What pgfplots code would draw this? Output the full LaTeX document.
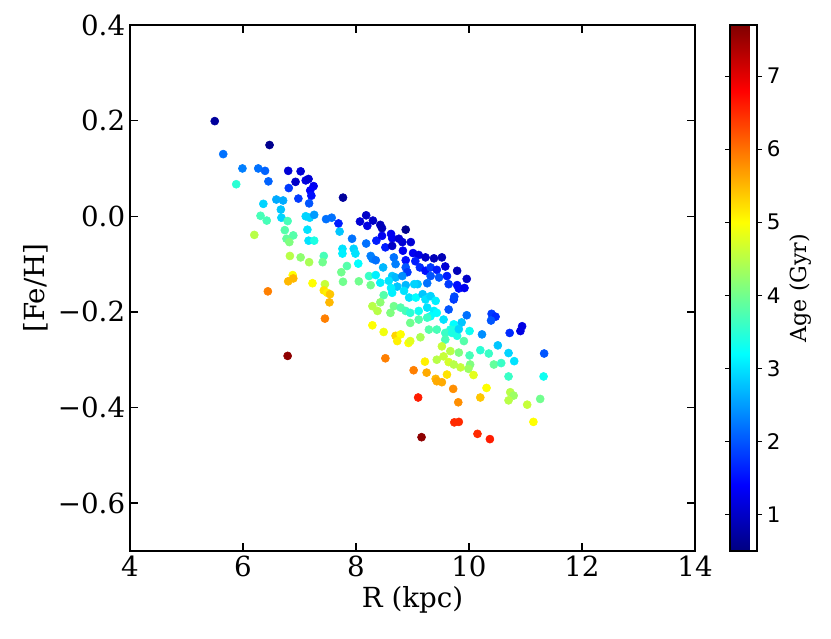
\documentclass[border=0pt]{standalone}
\usepackage{pgfplots}
\pgfplotsset{compat=1.18}
\usepackage{fontspec}
\setmainfont{DejaVu Serif}
\newfontfamily\cbfont{DejaVu Sans}
\pgfplotstableread{
R FeH a
5.50 0.199 0.7
6.47 0.149 0.6
5.65 0.130 2.2
5.99 0.100 2.3
6.27 0.100 2.2
6.39 0.095 2.1
6.45 0.073 2.1
5.88 0.067 3.5
6.80 0.095 1.1
7.02 0.094 1.1
6.93 0.072 1.0
7.11 0.075 1.2
7.16 0.078 1.1
7.25 0.063 1.3
7.19 0.054 1.4
7.21 0.043 1.5
6.81 0.059 1.8
6.98 0.037 1.8
7.17 0.027 2.0
7.77 0.039 0.7
6.36 0.026 2.9
6.59 0.035 2.6
6.71 0.033 2.6
6.67 0.014 2.8
6.31 0.001 3.7
6.42 -0.009 3.7
6.68 -0.003 2.9
6.79 -0.010 3.7
7.11 0.000 2.9
7.18 -0.003 2.9
7.26 0.003 2.5
7.47 -0.006 2.2
7.57 -0.003 2.2
7.69 -0.015 1.6
8.07 -0.011 1.1
8.18 0.002 1.0
8.20 -0.020 1.2
7.71 -0.032 2.8
7.93 -0.047 2.2
8.18 -0.057 2.2
6.20 -0.039 4.5
6.74 -0.029 3.8
6.89 -0.040 3.8
6.77 -0.047 3.9
6.82 -0.054 4.1
7.14 -0.028 3.0
7.16 -0.051 3.0
7.26 -0.051 3.4
7.76 -0.068 3.0
7.76 -0.078 3.1
7.96 -0.068 2.9
7.99 -0.078 3.0
7.43 -0.083 3.7
7.41 -0.096 4.0
6.83 -0.083 4.5
7.02 -0.086 4.2
7.17 -0.096 4.4
7.84 -0.104 3.8
8.04 -0.099 3.2
7.74 -0.117 4.0
7.77 -0.137 4.0
8.05 -0.136 4.0
8.23 -0.125 3.6
6.88 -0.123 5.0
6.89 -0.130 5.5
6.80 -0.136 5.5
7.23 -0.140 5.0
7.45 -0.142 4.6
7.43 -0.155 5.2
7.49 -0.160 5.1
7.54 -0.163 5.4
7.53 -0.180 5.5
6.44 -0.157 5.9
7.45 -0.214 5.9
6.79 -0.292 7.6
8.30 -0.009 1.0
8.43 -0.018 0.9
8.46 -0.025 0.9
8.88 -0.028 0.6
8.62 -0.037 1.3
8.64 -0.046 1.3
8.36 -0.051 1.6
8.46 -0.041 1.3
8.76 -0.047 1.1
8.82 -0.054 1.1
8.97 -0.054 1.1
8.52 -0.065 1.6
8.64 -0.062 1.0
8.83 -0.072 1.3
9.01 -0.077 1.3
9.11 -0.081 1.2
9.23 -0.086 1.0
9.38 -0.088 0.9
9.52 -0.086 0.9
9.79 -0.114 0.9
9.58 -0.105 1.1
8.26 -0.083 2.3
8.29 -0.089 2.3
8.35 -0.092 2.2
8.67 -0.086 2.2
8.70 -0.100 2.3
8.88 -0.092 1.5
8.88 -0.107 2.0
8.91 -0.117 1.8
9.05 -0.094 1.6
8.48 -0.107 2.7
8.64 -0.125 2.8
8.70 -0.128 2.7
8.82 -0.125 2.4
9.13 -0.107 1.7
9.23 -0.114 1.5
9.32 -0.107 1.8
9.43 -0.112 1.6
9.32 -0.125 2.0
9.47 -0.128 2.0
9.61 -0.125 1.6
9.64 -0.142 1.8
9.79 -0.144 1.5
9.26 -0.140 2.2
9.09 -0.142 2.8
8.35 -0.123 3.1
8.26 -0.144 4.0
8.43 -0.139 3.1
8.58 -0.135 3.0
8.73 -0.147 2.8
8.88 -0.144 2.7
9.03 -0.142 2.9
8.62 -0.150 3.1
8.64 -0.160 3.1
9.73 -0.174 1.8
9.64 -0.195 2.0
8.85 -0.156 3.0
8.94 -0.170 3.0
9.06 -0.170 3.2
9.18 -0.163 2.8
9.23 -0.174 3.0
9.32 -0.167 2.9
9.41 -0.177 3.1
8.49 -0.165 3.8
8.43 -0.180 4.2
8.29 -0.188 4.5
8.38 -0.198 4.5
8.61 -0.202 4.1
8.67 -0.188 4.0
8.79 -0.191 3.8
8.88 -0.198 3.7
8.96 -0.202 3.5
9.11 -0.198 3.3
9.26 -0.191 3.0
9.38 -0.198 3.1
9.32 -0.209 3.2
9.43 -0.202 3.2
9.55 -0.216 3.0
9.73 -0.226 3.2
9.76 -0.237 3.4
9.67 -0.237 3.4
8.96 -0.223 4.0
9.11 -0.216 3.8
9.26 -0.212 3.6
9.29 -0.237 3.8
9.43 -0.237 3.7
9.58 -0.244 3.6
9.58 -0.258 3.7
9.70 -0.244 3.4
9.79 -0.250 3.4
8.29 -0.228 5.0
8.49 -0.242 4.9
8.70 -0.250 5.3
8.79 -0.247 5.0
8.73 -0.261 5.1
8.93 -0.265 5.0
8.96 -0.261 4.8
9.14 -0.253 4.4
9.52 -0.272 4.6
9.67 -0.282 4.5
8.52 -0.297 5.9
9.22 -0.304 5.1
9.43 -0.300 4.5
9.55 -0.293 4.6
9.02 -0.322 5.9
9.25 -0.327 5.6
9.41 -0.340 5.5
9.43 -0.345 5.6
9.52 -0.347 5.6
9.61 -0.331 5.2
9.64 -0.305 4.7
10.23 -0.247 2.4
10.72 -0.244 1.7
10.91 -0.240 1.2
10.51 -0.270 2.8
10.70 -0.286 2.9
10.80 -0.303 3.0
11.33 -0.287 2.0
11.32 -0.335 3.3
10.70 -0.335 3.6
10.20 -0.280 3.5
10.35 -0.287 3.6
10.01 -0.291 3.7
9.91 -0.261 3.8
10.44 -0.310 3.9
10.57 -0.307 3.6
10.02 -0.310 4.1
9.99 -0.319 4.3
10.08 -0.332 4.8
9.85 -0.316 4.6
9.73 -0.310 4.5
9.82 -0.285 4.1
9.72 -0.361 5.8
9.81 -0.389 5.8
10.31 -0.359 5.0
10.20 -0.379 5.4
10.73 -0.368 4.5
10.79 -0.375 4.3
10.70 -0.385 4.5
11.03 -0.394 4.6
11.26 -0.382 4.0
11.14 -0.430 5.0
9.74 -0.431 6.5
9.82 -0.430 6.5
10.15 -0.455 6.5
10.37 -0.466 6.6
9.96 -0.131 1.0
9.82 -0.151 1.5
9.92 -0.150 1.3
9.96 -0.207 2.2
9.87 -0.222 2.8
9.82 -0.236 2.9
10.01 -0.240 3.3
10.40 -0.204 1.8
10.47 -0.210 1.7
10.39 -0.218 2.0
10.94 -0.230 1.2
9.74 -0.168 1.9
9.10 -0.379 6.6
9.16 -0.462 7.6
}\datatable
\begin{document}
\begin{tikzpicture}
\path[use as bounding box] (0bp,0bp) rectangle (598.32bp,459.36bp);
\begin{axis}[
  at={(93.6bp,62.64bp)}, anchor=south west,
  scale only axis, width=406.8bp, height=378.72bp,
  xmin=4, xmax=14, ymin=-0.7, ymax=0.4,
  xtick={4,6,8,10,12,14}, xticklabels={4,6,8,10,12,14},
  ytick={-0.6,-0.4,-0.2,0,0.2,0.4},
  yticklabels={−0.6,−0.4,−0.2,0.0,0.2,0.4},
  tick align=inside, xtick pos=both, ytick pos=both,
  xticklabel pos=lower, yticklabel pos=left,
  major tick length=5.8bp,
  every tick/.style={black, line width=1.1bp},
  axis line style={line width=0.8bp},
  tick label style={font=\fontsize{20}{24}\selectfont},
  label style={font=\fontsize{20}{24}\selectfont},
  xlabel={R (kpc)}, ylabel={[Fe/H]},
  colormap/jet, point meta min=0.5, point meta max=7.7,
  colorbar shift/.style={xshift=25.2bp},
  colorbar,
  colorbar style={
    at={(parent axis.north east)}, anchor=north west,
    scale only axis, width=19.44bp, height=378.72bp,
    ytick={1,2,3,4,5,6,7}, yticklabels={1,2,3,4,5,6,7},
    yticklabel style={font=\cbfont\fontsize{15.5}{18}\selectfont},
    tick align=outside, major tick length=3.6bp,
    every tick/.style={black, line width=0.8bp},
    axis line style={line width=0.8bp},
    ylabel={Age (Gyr)}, ylabel near ticks, yticklabel pos=right,
    ylabel style={font=\fontsize{16}{19}\selectfont},
  },
]
\addplot[scatter, only marks, mark=*, mark size=2.9bp,
  scatter/use mapped color={draw=mapped color, fill=mapped color},
  point meta=explicit] table[x=R, y=FeH, meta=a] {\datatable};
\end{axis}
\end{tikzpicture}
\end{document}
